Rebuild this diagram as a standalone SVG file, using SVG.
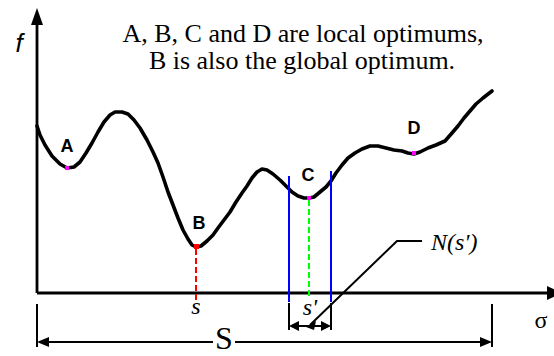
<svg xmlns="http://www.w3.org/2000/svg" width="554" height="356" viewBox="0 0 554 356">
<style>
.ax{stroke:#000;stroke-width:2.8;fill:none}
.thin{stroke:#000;stroke-width:2;fill:none}
.curve{stroke:#000;stroke-width:3.6;fill:none;stroke-linejoin:round;stroke-linecap:round}
.lbl{font-family:"Liberation Sans",Arial,sans-serif;font-weight:bold;font-size:18px;fill:#000;text-anchor:middle}
.ser{font-family:"Liberation Serif","Times New Roman",serif;fill:#000}
.it{font-style:italic}
.mk{fill:#ff00ff}
</style>
<rect width="554" height="356" fill="#fff"/>
<g id="axes">
<line class="ax" x1="37" y1="293" x2="37" y2="22"/>
<polygon points="37,8 31,25 43,25" fill="#000"/>
<line class="ax" x1="37" y1="293" x2="548" y2="293"/>
<polygon points="562,293 547,286 547,300" fill="#000"/>
<text x="19" y="52" font-family="Liberation Sans,Arial,sans-serif" font-style="italic" font-size="26" text-anchor="middle">f</text>
<text class="ser" x="541" y="328" font-size="24" text-anchor="middle">σ</text>
</g>
<g id="title">
<text class="ser" x="303" y="42" font-size="26" text-anchor="middle">A, B, C and D are local optimums,</text>
<text class="ser" x="302" y="69" font-size="26" text-anchor="middle">B is also the global optimum.</text>
</g>
<g id="curve">
<polyline class="curve" points="37,126 40,135 45,145 52,156 60,164 67,168 74,167 80,162 86,153 92,143 98,132 104,122 110,115 115,112 122,112 128,114 134,120 140,128 147,140 153,152 158,163 163,177 168,192 173,205 178,218 183,230 188,239 192,245 196,247 201,246 207,241 213,235 218,228 224,220 230,212 236,202 242,193 247,186 252,178 257,172 262,169 267,170 273,174 280,180 286,186 292,192 298,196 304,198 309,198 314,197 320,192 326,187 331,181 336,173 342,165 348,158 355,153 362,149 370,146 378,146 386,148 394,150 402,151 408,153 414,154 420,152 428,148 436,145 445,141 452,133 458,126 464,118 470,111 476,104 483,98 492,91"/>
</g>
<g id="guides">
<line x1="196" y1="249" x2="196" y2="301" stroke="#ff0000" stroke-width="2" stroke-dasharray="6,3"/>
<line x1="309" y1="200" x2="309" y2="297" stroke="#00ff00" stroke-width="2" stroke-dasharray="6,3"/>
<line x1="289" y1="176" x2="289" y2="302" stroke="#0000ff" stroke-width="2"/>
<line x1="331" y1="171" x2="331" y2="302" stroke="#0000ff" stroke-width="2"/>
</g>
<g id="node-A"><rect class="mk" x="65" y="166" width="4" height="4"/><text class="lbl" x="67" y="152">A</text></g>
<g id="node-B"><rect x="194" y="244" width="5" height="5" fill="#ff0000"/><text class="lbl" x="199" y="229">B</text></g>
<g id="node-C"><rect class="mk" x="307" y="196" width="4" height="4"/><text class="lbl" x="308" y="181">C</text></g>
<g id="node-D"><rect class="mk" x="412" y="151" width="4" height="4"/><text class="lbl" x="414" y="134">D</text></g>
<g id="labels">
<text class="ser it" x="196" y="314" font-size="24" text-anchor="middle">s</text>
<text class="ser it" x="310" y="315" font-size="24" text-anchor="middle">s'</text>
<text class="ser it" x="431" y="250" font-size="24">N(s')</text>
<text class="ser" x="224" y="349" font-size="32" text-anchor="middle">S</text>
</g>
<g id="connectors">
<line class="thin" x1="37" y1="304" x2="37" y2="347"/>
<line class="thin" x1="492" y1="304" x2="492" y2="347"/>
<line class="thin" x1="44" y1="342" x2="213" y2="342"/>
<line class="thin" x1="235" y1="342" x2="485" y2="342"/>
<polygon points="37,342 49,337 49,347" fill="#000"/>
<polygon points="492,342 480,337 480,347" fill="#000"/>
<line class="thin" x1="289" y1="303" x2="289" y2="330"/>
<line class="thin" x1="331" y1="303" x2="331" y2="330"/>
<line class="thin" x1="295" y1="326" x2="325" y2="326"/>
<polygon points="289,326 299,321 299,331" fill="#000"/>
<polygon points="331,326 321,321 321,331" fill="#000"/>
<polyline class="thin" points="310,325 397,241 422,241"/>
<polygon points="306,327 316,321 314,330" fill="#000"/>
</g>
</svg>
